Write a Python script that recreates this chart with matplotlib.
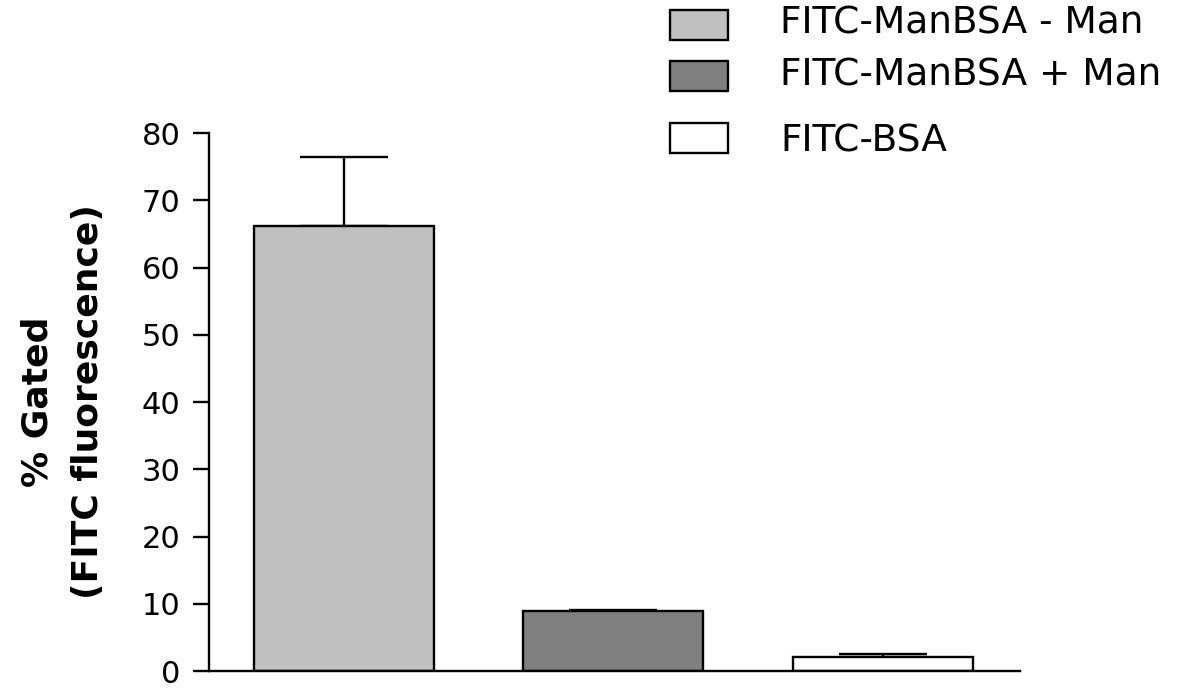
import matplotlib
matplotlib.use('Agg')
import matplotlib.pyplot as plt
from matplotlib.patches import Rectangle

# data
groups = ['FITC-ManBSA - Man', 'FITC-ManBSA + Man', 'FITC-BSA']
means = [66.2, 8.9, 2.1]
sem = [10.2, 0.2, 0.4]
colours = ['#c0c0c0', '#808080', '#ffffff']

plt.rcParams['font.family'] = ['DejaVu Sans']

fig = plt.figure(figsize=(12, 6.92), dpi=100)
ax = fig.add_axes([0.174, 0.0303, 0.676, 0.7775])

x = range(len(groups))
ax.bar(x, means, width=0.667, color=colours, edgecolor='black', linewidth=1.7, zorder=2)
ax.errorbar(x, means, yerr=[[0] * len(sem), sem], fmt='none', ecolor='black',
            elinewidth=1.7, capsize=32, capthick=1.7, zorder=1)

ax.set_xlim(-0.5, 2.507)
ax.set_ylim(0, 80)
ax.set_yticks(range(0, 81, 10))
ax.set_xticks([])
for s in ['top', 'right']:
    ax.spines[s].set_visible(False)
ax.spines['left'].set_linewidth(1.7)
ax.spines['bottom'].set_linewidth(1.7)
ax.tick_params(axis='y', length=11.5, width=1.7, pad=9, labelsize=22)
ax.set_ylabel('% Gated\n(FITC fluorescence)', fontsize=26, fontweight='bold', linespacing=1.6)
ax.yaxis.set_label_coords(-0.1285, 0.5)

# legend drawn in figure coords (rows are unevenly spaced in the original)
W, H = 1200, 692
patch_y = [25, 76, 138]
text_base = [34, 86, 151]
for lab, col, yc, yb in zip(groups, colours, patch_y, text_base):
    fig.patches.append(Rectangle((670 / W, 1 - (yc + 15) / H), 58 / W, 30 / H,
                                 transform=fig.transFigure, facecolor=col,
                                 edgecolor='black', linewidth=1.7))
    fig.text(780 / W, 1 - yb / H, lab, fontsize=27, va='baseline', ha='left')

fig.savefig('out.png', dpi=100)
